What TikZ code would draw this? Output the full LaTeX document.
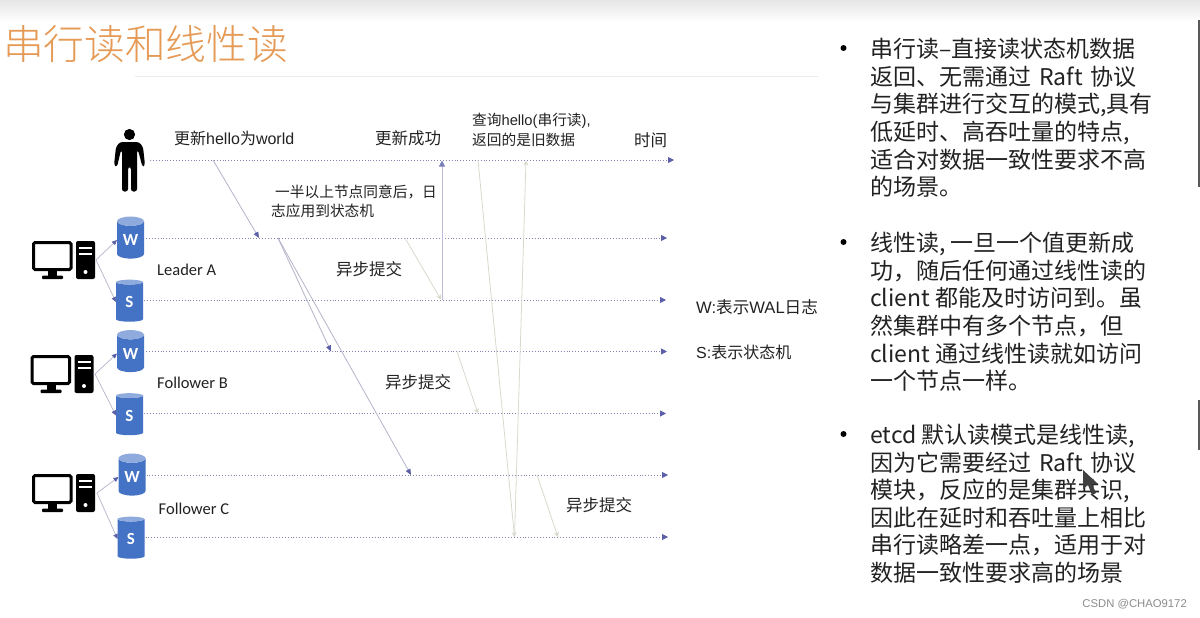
\documentclass[tikz,border=0pt]{standalone}
\usepackage{fontspec}
\usetikzlibrary{arrows.meta,shapes.geometric}
\setmainfont{Liberation Sans}
\newfontfamily\carl{Carlito}
\newfontfamily\cjk{Noto Sans CJK SC}
\newfontfamily\cjklight{Noto Sans CJK SC Light}
\newcommand{\Cj}[1]{{\cjk #1}}
\newcommand{\Gap}{\hspace{8pt}}
\definecolor{lineblue}{HTML}{8585B5}
\definecolor{tipblue}{HTML}{5A5FA8}
\definecolor{paleline}{HTML}{D9D9CE}
\definecolor{midline}{HTML}{B4B4CA}
\definecolor{ackline}{HTML}{BDBDDB}
\definecolor{cylblue}{HTML}{4472C4}
\definecolor{cyltop}{HTML}{8FAADC}
\definecolor{txt}{HTML}{222222}
\definecolor{titleorange}{HTML}{E59A55}
\tikzset{
  timeline/.style={draw=lineblue,dotted,line width=0.9pt,-{Triangle[length=6pt,width=6pt,color=tipblue,fill=tipblue]}},
  msg/.style={draw=midline,line width=0.8pt,-{Triangle[length=6pt,width=5pt,color=tipblue,fill=tipblue]}},
  ackmsg/.style={draw=paleline,line width=0.8pt,-{Stealth[length=5pt,width=5pt,fill=paleline!70!orange]}},
  upmsg/.style={draw=paleline,line width=0.8pt,-{Stealth[length=5pt,width=5pt,fill=paleline]}},
  link/.style={draw=midline,line width=0.7pt,-{Triangle[length=5pt,width=4.5pt,color=tipblue,fill=tipblue]}},
  db/.style={cylinder,shape border rotate=90,aspect=0.6,draw=none,inner sep=0pt,outer sep=0pt,
    cylinder uses custom fill,cylinder body fill=cylblue,cylinder end fill=cyltop,
    minimum width=27pt,minimum height=42pt,text=white,font=\carl\fontsize{17}{18}\selectfont\bfseries},
  lab/.style={anchor=west,inner sep=0pt,text=txt,font=\fontsize{16}{19}\selectfont},
  labs/.style={anchor=west,inner sep=0pt,text=txt,font=\fontsize{14.7}{19.5}\selectfont,align=left},
  role/.style={anchor=west,inner sep=0pt,text=txt,font=\carl\fontsize{16.5}{18}\selectfont},
  para/.style={anchor=north west,inner sep=0pt,text=txt,align=left,
    font=\cjk\fontsize{23}{27.6}\selectfont},
  bul/.style={circle,fill=black,inner sep=0pt,minimum size=6pt},
  pcicon/.pic={
    \draw[black,line width=3pt,rounded corners=1.5pt] (1.5,1.5) rectangle (39,28.5);
    \fill[black] (16,30) rectangle (25,35);
    \fill[black,rounded corners=1pt] (10,34.5) rectangle (31,38);
    \fill[black,rounded corners=2pt] (44,0) rectangle (63,38);
    \fill[white] (47,5.5) rectangle (60,7.5);
    \fill[white] (47,11.5) rectangle (60,13.5);
    \fill[white] (53.5,31) circle (2pt);
  }
}
\begin{document}
\begin{tikzpicture}[x=1pt,y=-1pt]
\useasboundingbox (0,0) rectangle (1200,618);
\fill[white] (0,0) rectangle (1200,618);
\shade[top color=black!10,bottom color=white] (0,0) rectangle (1200,22);
\draw[black!8,line width=1pt] (135,77) -- (818,77);
\node[anchor=west,inner sep=0pt,text=titleorange,font=\cjklight\fontsize{40.7}{44}\selectfont] (title) at (3,44) {串行读和线性读};

% person
\fill[black] (129.5,134.5) circle (5.6pt);
\fill[black,rounded corners=2.5pt] (120,142) -- (139,142) -- (143,147) -- (145,165) -- (142.5,167) -- (138,150) -- (137,150) -- (137,191.5) -- (131,191.5) -- (131,167) -- (128,167) -- (128,191.5) -- (122,191.5) -- (122,150) -- (121,150) -- (117,167) -- (114,165) -- (116,147) -- cycle;

% computers
\pic at (32,241) {pcicon};
\pic at (30.5,355) {pcicon};
\pic at (32,474) {pcicon};
\coordinate (pcA) at (96,260);
\coordinate (pcB) at (95,374);
\coordinate (pcC) at (97,493);

% cylinders
\node[db] (wA) at (130.5,240) {W};
\node[db] (sA) at (129.5,302) {S};
\node[db] (wB) at (130.5,353.5) {W};
\node[db] (sB) at (129.5,415.5) {S};
\node[db] (wC) at (132,477) {W};
\node[db] (sC) at (131,539) {S};
\draw[link] (pcA) -- (wA.west);
\draw[link] (pcA) -- (sA.west);
\draw[link] (pcB) -- (wB.west);
\draw[link] (pcB) -- (sB.west);
\draw[link] (pcC) -- (wC.west);
\draw[link] (pcC) -- (sC.west);

% timeline ends
\coordinate (uS) at (150,160);   \coordinate (uE) at (674,160);
\coordinate (aW) at (667,238);   \coordinate (aS) at (666,300);
\coordinate (bW) at (667,351.5); \coordinate (bS) at (666,413.5);
\coordinate (cW) at (668,475);   \coordinate (cS) at (668,537);
\draw[timeline] (uS) -- (uE);
\draw[timeline,shorten <=2pt] (wA.east |- aW) -- (aW);
\draw[timeline,shorten <=1pt] (sA.east |- aS) -- (aS);
\draw[timeline,shorten <=2pt] (wB.east |- bW) -- (bW);
\draw[timeline,shorten <=1pt] (sB.east |- bS) -- (bS);
\draw[timeline,shorten <=1pt] (wC.east |- cW) -- (cW);
\draw[timeline,shorten <=1pt] (sC.east |- cS) -- (cS);

% event points
\coordinate (p1) at (213,160);  \coordinate (p2) at (259,238);
\coordinate (p3) at (278,238);  \coordinate (p4) at (331,351.5);
\coordinate (p5) at (411,475);
\coordinate (p6) at (405,238);  \coordinate (p7) at (441,299.5);
\coordinate (p8) at (442,300);  \coordinate (p9) at (442,160.5);
\coordinate (p10) at (478,160); \coordinate (p11) at (514.5,537);
\coordinate (p12) at (526,160.5);
\coordinate (p13) at (457,351.5); \coordinate (p14) at (478,413.5);
\coordinate (p15) at (537,475);   \coordinate (p16) at (558,537);
\draw[msg] (p1) -- (p2);
\draw[msg] (p3) -- (p4);
\draw[msg] (p3) -- (p5);
\draw[ackmsg] (p6) -- (p7);
\draw[draw=ackline,line width=1pt,-{Triangle[length=6pt,width=6pt,color=tipblue!80,fill=tipblue!80]}] (p8) -- (p9);
\draw[upmsg] (p10) -- (p11);
\draw[upmsg] (p11) -- (p12);
\draw[ackmsg] (p13) -- (p14);
\draw[ackmsg] (p15) -- (p16);

% labels
\node[lab] (l1) at (174,138) {\Cj{更新}hello\Cj{为}world};
\node[lab,font=\fontsize{16.5}{19}\selectfont] (l2) at (375,138) {\Cj{更新成功}};
\node[labs] (l3) at (472,130) {\Cj{查询}hello(\Cj{串行读}),\\\Cj{返回的是旧数据}};
\node[lab,font=\fontsize{16.5}{19}\selectfont] (l4) at (634,140) {\Cj{时间}};
\node[labs] (l5) at (271,201.5) {\hspace{4pt}\Cj{一半以上节点同意后，日}\\\Cj{志应用到状态机}};
\node[role] (l6) at (157,269.5) {Leader A};
\node[role] (l7) at (157,383) {Follower B};
\node[role] (l8) at (158.5,509) {Follower C};
\node[lab,font=\fontsize{16.5}{19}\selectfont] (l9) at (336,269.5) {\Cj{异步提交}};
\node[lab,font=\fontsize{16.5}{19}\selectfont] (l10) at (385,382) {\Cj{异步提交}};
\node[lab,font=\fontsize{16.5}{19}\selectfont] (l11) at (566,505) {\Cj{异步提交}};
\node[lab,font=\fontsize{16.6}{19}\selectfont] (l12) at (696,307) {W:\Cj{表示}WAL\Cj{日志}};
\node[lab] (l13) at (696,352) {S:\Cj{表示状态机}};

% right text
\node[bul] (b1) at (843.5,48) {};
\node[bul] (b2) at (843.5,242) {};
\node[bul] (b3) at (843.5,434) {};
\node[para] (t1) at (870,38) {串行读–直接读状态机数据\\返回、无需通过\Gap Raft\Gap 协议\\与集群进行交互的模式,具有\\低延时、高吞吐量的特点,\\适合对数据一致性要求不高\\的场景。};
\node[para] (t2) at (870,232) {线性读, 一旦一个值更新成\\功，随后任何通过线性读的\\client 都能及时访问到。虽\\然集群中有多个节点，但\\client 通过线性读就如访问\\一个节点一样。};
\node[para] (t3) at (870,424) {etcd 默认读模式是线性读,\\因为它需要经过\Gap Raft\Gap 协议\\模块，反应的是集群共识,\\因此在延时和吞吐量上相比\\串行读略差一点，适用于对\\数据一致性要求高的场景};

% cursor, scrollbar marks, watermark
\fill[black!75] (1083,470) -- (1083,489) -- (1088,485) -- (1092,495) -- (1096,493) -- (1092,484) -- (1098,484) -- cycle;
\fill[black!65] (1198,20) rectangle (1200,187);
\fill[black!65] (1198,400) rectangle (1200,450);
\node[anchor=east,inner sep=0pt,text=black!45,font=\fontsize{11.3}{15}\selectfont] (wm) at (1187,604) {CSDN @CHAO9172};
\end{tikzpicture}
\end{document}
